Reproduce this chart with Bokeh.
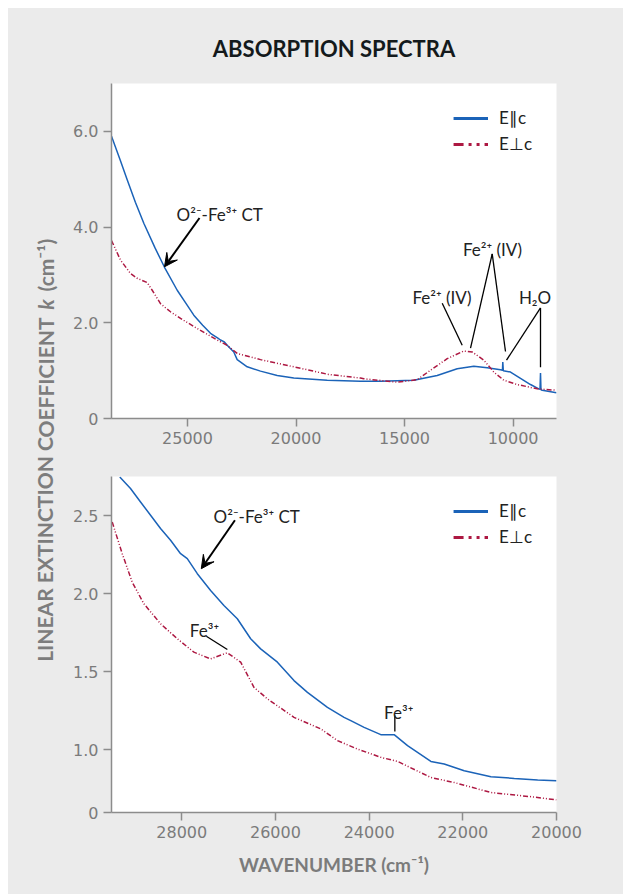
from bokeh.plotting import figure
from bokeh.models import (Range1d, FixedTicker, NumeralTickFormatter, Legend, LegendItem,
                          Label, Arrow, VeeHead, Spacer, ColumnDataSource)
from bokeh.core.properties import value
from bokeh.layouts import row, column
from bokeh.embed import file_html
from bokeh.resources import INLINE

# ---------------- data ----------------
# Top panel: full range
top_par_x = [28500, 28100, 27777, 27400, 27012, 26500, 26058, 25473, 25000, 24709, 24300, 23940,
             23600, 23479, 23300, 23170, 22866, 22710, 22249, 21636, 20867, 20102, 18563, 17029,
             16107, 14574, 13496, 12574, 11810, 11192, 10580, 10490, 10474, 10450, 10119, 9198,
             8815, 8760, 8737, 8715, 8659, 8000]
top_par_y = [5.90, 5.40, 4.99, 4.52, 4.08, 3.57, 3.16, 2.68, 2.36, 2.16, 1.95, 1.78,
             1.68, 1.64, 1.60, 1.53, 1.39, 1.23, 1.08, 0.99, 0.90, 0.845, 0.80, 0.776,
             0.776, 0.80, 0.90, 1.04, 1.09, 1.06, 1.02, 1.01, 1.18, 1.00, 0.97, 0.71,
             0.62, 0.61, 0.95, 0.60, 0.59, 0.54]
top_perp_x = [28500, 28085, 27625, 27316, 26855, 26625, 26243, 25782, 25169, 24400, 23631, 23170,
              22710, 21636, 20102, 18500, 17029, 16877, 15340, 14417, 13804, 13035, 12270, 11883,
              11348, 10888, 10428, 9813, 8888, 8000]
top_perp_y = [3.72, 3.31, 3.03, 2.93, 2.84, 2.68, 2.40, 2.23, 2.05, 1.84, 1.64, 1.53,
              1.36, 1.23, 1.08, 0.92, 0.845, 0.83, 0.76, 0.81, 1.01, 1.25, 1.41, 1.39,
              1.22, 0.97, 0.80, 0.71, 0.62, 0.59]

# Bottom panel: UV-vis detail
bot_par_x = [29323, 29094, 28880, 28666, 28453, 28239, 28025, 27882, 27668, 27384, 27100, 26814,
             26529, 26316, 25958, 25604, 25317, 24890, 24535, 24392, 24107, 23751, 23466, 23180,
             22682, 22398, 21970, 21400, 20901, 20402, 20000]
bot_par_y = [2.747, 2.673, 2.587, 2.502, 2.417, 2.342, 2.256, 2.224, 2.128, 2.021, 1.925, 1.840,
             1.712, 1.647, 1.562, 1.444, 1.369, 1.273, 1.209, 1.188, 1.145, 1.098, 1.098, 1.028,
             0.927, 0.910, 0.867, 0.829, 0.818, 0.808, 0.803]
bot_perp_x = [29485, 29271, 29058, 28810, 28453, 28096, 27741, 27384, 27027, 26742, 26459, 26172,
              25604, 25033, 24676, 24249, 23751, 23394, 22682, 22184, 21400, 20545, 20000]
bot_perp_y = [2.459, 2.256, 2.074, 1.936, 1.808, 1.712, 1.626, 1.583, 1.622, 1.562, 1.401, 1.327,
              1.209, 1.135, 1.060, 1.006, 0.953, 0.927, 0.824, 0.792, 0.728, 0.701, 0.681]

series_names = ["E\u2225c", "E\u22a5c"]
top_xticks = [25000, 20000, 15000, 10000]
top_yticks = [0, 2.0, 4.0, 6.0]
top_ytick_labels = {0: "0"}
bot_xticks = [28000, 26000, 24000, 22000, 20000]
bot_yticks = [0.6, 1.0, 1.5, 2.0, 2.5]
bot_ytick_labels = {0.6: "0"}

# annotation anchors (data units)
top_ct_text = (25500, 4.26)
top_ct_arrow = (24446, 4.19, 26058, 3.17)
top_fe_hi_text = (10948, 3.54)
top_fe_lo_text = (13275, 2.52)
top_h2o_text = (8990, 2.52)
top_leader_x0 = [10962, 10962, 13265, 8737, 8737]
top_leader_y0 = [3.44, 3.44, 2.41, 2.31, 2.31]
top_leader_x1 = [11961, 10349, 12344, 10303, 8737]
top_leader_y1 = [1.47, 1.40, 1.53, 1.22, 1.07]

bot_ct_text = (27320, 2.495)
bot_ct_arrow = (26865, 2.47, 27583, 2.16)
bot_fe1_text = (27827, 1.765)
bot_fe2_text = (23680, 1.241)
bot_leader_x0 = [27476, 23451]
bot_leader_y0 = [1.728, 1.22]
bot_leader_x1 = [27027, 23451]
bot_leader_y1 = [1.643, 1.119]

# y-axis title pieces
ylab_parts = ["LINEAR EXTINCTION COEFFICIENT", "k", "(cm\u207b\u00b9)"]
ylab_style = ["bold", "bold italic", "bold"]
ylab_align = ["right", "center", "left"]
ylab_pos = [577, 590, 603]

# ---------------- style ----------------
BG = "#ebebeb"
BLUE = "#1b63b8"
RED = "#ad1842"
AXIS = "#8c8c8c"
TICKTXT = "#7b7b7b"
ANN = "#222222"
ANN_FONT = "Lato"
PLOT_DASH = "5 2 1 2 1 2"
LEG_DASH = "10 5 3 5 3 5"

W_LABEL = 52
W_PLOT = 563
H_TOP = 447
H_BOT = 439


def style(p, xticks, yticks, yover):
    p.background_fill_color = "white"
    p.border_fill_color = BG
    p.outline_line_color = None
    p.xgrid.grid_line_color = None
    p.ygrid.grid_line_color = None
    for ax in (p.xaxis[0], p.yaxis[0]):
        ax.axis_line_color = AXIS
        ax.axis_line_width = 1.5
        ax.major_tick_line_color = AXIS
        ax.major_tick_line_width = 1.5
        ax.major_tick_out = 8
        ax.major_tick_in = 0
        ax.minor_tick_line_color = None
        ax.major_label_text_font = "DejaVu Sans"
        ax.major_label_text_font_size = "16px"
        ax.major_label_text_color = TICKTXT
        ax.major_label_standoff = 5
    p.xaxis[0].ticker = FixedTicker(ticks=xticks)
    p.xaxis[0].formatter = NumeralTickFormatter(format="0")
    p.yaxis[0].ticker = FixedTicker(ticks=yticks)
    p.yaxis[0].formatter = NumeralTickFormatter(format="0.0")
    p.yaxis[0].major_label_overrides = yover


def add_series(p, xa, ya, xb, yb, off_x, off_y):
    p.line(xa, ya, line_color=BLUE, line_width=1.5)
    p.line(xb, yb, line_color=RED, line_width=1.5, line_dash=PLOT_DASH)
    # legend proxies (thicker strokes), placed outside the visible range
    r1 = p.line(off_x, off_y, line_color=BLUE, line_width=3)
    r2 = p.line(off_x, off_y, line_color=RED, line_width=3, line_dash=LEG_DASH)
    leg = Legend(items=[LegendItem(label=series_names[0], renderers=[r1]),
                        LegendItem(label=series_names[1], renderers=[r2])],
                 location="top_right", margin=24, padding=0, spacing=5,
                 glyph_width=35, glyph_height=20, label_height=20, label_standoff=11,
                 label_text_font=ANN_FONT, label_text_font_size="17px",
                 label_text_color=ANN, border_line_color=None,
                 background_fill_alpha=0)
    p.add_layout(leg, "center")


def ann(p, xy, text, align="left"):
    p.add_layout(Label(x=xy[0], y=xy[1], text=text, text_font=ANN_FONT,
                       text_font_size="17px", text_color=ANN, text_align=align,
                       text_baseline="alphabetic"))


def arrow(p, a):
    p.add_layout(Arrow(end=VeeHead(size=13, fill_color="black", line_color="black"),
                       x_start=a[0], y_start=a[1], x_end=a[2], y_end=a[3],
                       line_color="black", line_width=2))


# ---------------- top plot ----------------
top = figure(width=W_PLOT, height=H_TOP, x_range=Range1d(28500, 8000), y_range=Range1d(0, 7.0),
             output_backend="svg", toolbar_location=None,
             min_border_left=51, min_border_right=67, min_border_top=75, min_border_bottom=37)
style(top, top_xticks, top_yticks, top_ytick_labels)
top.title.text = "ABSORPTION SPECTRA"
top.title.align = "center"
top.title.text_font = "Lato"
top.title.text_font_style = "bold"
top.title.text_font_size = "22px"
top.title.text_color = "#141a1c"
top.title.standoff = 44
add_series(top, top_par_x, top_par_y, top_perp_x, top_perp_y, [20000, 19000], [-5, -5])
top.segment(top_leader_x0, top_leader_y0, top_leader_x1, top_leader_y1,
            line_color="black", line_width=1.3)
ann(top, top_ct_text, "O\u00b2\u207b-Fe\u00b3\u207a CT")
arrow(top, top_ct_arrow)
ann(top, top_fe_hi_text, "Fe\u00b2\u207a (IV)", "center")
ann(top, top_fe_lo_text, "Fe\u00b2\u207a (IV)", "center")
ann(top, top_h2o_text, "H\u2082O", "center")

# ---------------- bottom plot ----------------
bot = figure(width=W_PLOT, height=H_BOT, x_range=Range1d(29500, 20000), y_range=Range1d(0.6, 2.75),
             output_backend="svg", toolbar_location=None,
             min_border_left=51, min_border_right=67, min_border_top=21, min_border_bottom=82)
style(bot, bot_xticks, bot_yticks, bot_ytick_labels)
add_series(bot, bot_par_x, bot_par_y, bot_perp_x, bot_perp_y, [25000, 24000], [-5, -5])
bot.segment(bot_leader_x0, bot_leader_y0, bot_leader_x1, bot_leader_y1,
            line_color="black", line_width=1.3)
ann(bot, bot_ct_text, "O\u00b2\u207b-Fe\u00b3\u207a CT")
arrow(bot, bot_ct_arrow)
ann(bot, bot_fe1_text, "Fe\u00b3\u207a")
ann(bot, bot_fe2_text, "Fe\u00b3\u207a")
bot.xaxis[0].axis_label = "WAVENUMBER (cm\u207b\u00b9)"
bot.xaxis[0].axis_label_text_font = "Lato"
bot.xaxis[0].axis_label_text_font_style = "bold"
bot.xaxis[0].axis_label_text_font_size = "19px"
bot.xaxis[0].axis_label_text_color = TICKTXT
bot.xaxis[0].axis_label_standoff = 12

# ---------------- y label strip ----------------
H_ALL = H_TOP + H_BOT
lab = figure(width=W_LABEL, height=H_ALL, x_range=Range1d(0, W_LABEL), y_range=Range1d(0, H_ALL),
             output_backend="svg", toolbar_location=None,
             min_border=0, min_border_left=0, min_border_right=0, min_border_top=0, min_border_bottom=0)
lab.axis.visible = False
lab.grid.grid_line_color = None
lab.outline_line_color = None
lab.background_fill_color = BG
lab.border_fill_color = BG
ysrc = ColumnDataSource(dict(x=[36.5] * 3, y=ylab_pos, t=ylab_parts, st=ylab_style, al=ylab_align))
lab.text(x="x", y="y", text="t", source=ysrc, angle=1.5707963, text_font=value("Lato"),
         text_font_style="st", text_align="al", text_baseline="middle",
         text_font_size="21px", text_color="#7d7d7d")

body = row(lab, column(top, bot, spacing=0), spacing=0, styles={"background-color": BG})
layout = row(Spacer(width=8), column(Spacer(height=8), body, spacing=0), spacing=0)
open("out.html", "w").write(file_html(layout, INLINE))
